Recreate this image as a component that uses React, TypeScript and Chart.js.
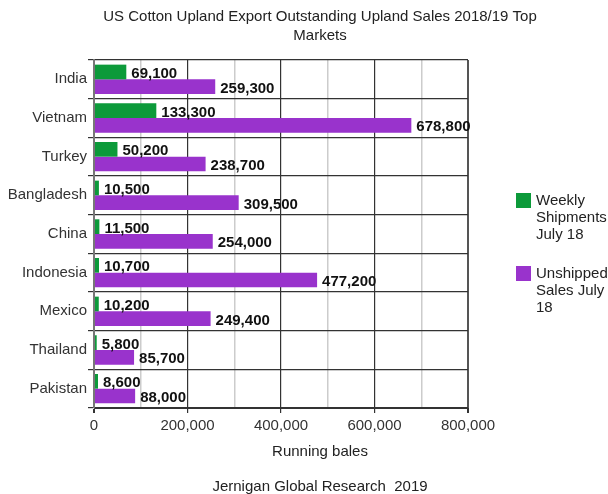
import React, { useEffect, useRef } from "react";
import { Chart, registerables } from "chart.js";

Chart.register(...registerables);

const categories = ["India", "Vietnam", "Turkey", "Bangladesh", "China", "Indonesia", "Mexico", "Thailand", "Pakistan"];
const weeklyShipments = [69100, 133300, 50200, 10500, 11500, 10700, 10200, 5800, 8600];
const unshippedSales = [259300, 678800, 238700, 309500, 254000, 477200, 249400, 85700, 88000];
const seriesNames = [["Weekly", "Shipments", "July 18"], ["Unshipped", "Sales July", "18"]];
const titleLines = ["US Cotton Upland Export Outstanding Upland Sales 2018/19 Top", "Markets"];
const xAxisTitle = "Running bales";
const footerText = "Jernigan Global Research  2019";
const xMin = 0;
const xMax = 800000;
const xStep = 100000;

const FONT = "'Liberation Sans', Arial, sans-serif";
const GREEN = "#0c9a3a";
const PURPLE = "#9933cc";

const labelsPlugin = {
  id: "barValueLabels",
  afterDatasetsDraw(chart: any) {
    const ctx = chart.ctx;
    ctx.save();
    ctx.font = `bold 15px ${FONT}`;
    ctx.fillStyle = "#111";
    ctx.textAlign = "left";
    ctx.textBaseline = "middle";
    chart.data.datasets.forEach((ds: any, di: number) => {
      const meta = chart.getDatasetMeta(di);
      meta.data.forEach((el: any, i: number) => {
        const v = ds.data[i] as number;
        ctx.fillText(v.toLocaleString("en-US"), el.x + 5, el.y + 2);
      });
    });
    ctx.restore();
  },
};

const textPlugin = {
  id: "extraText",
  afterDraw(chart: any) {
    const ctx = chart.ctx;
    ctx.save();
    ctx.fillStyle = "#222";
    ctx.textAlign = "center";
    ctx.textBaseline = "middle";
    ctx.font = `15px ${FONT}`;
    titleLines.forEach((t, i) => ctx.fillText(t, 320, 17 + i * 19));
    ctx.fillText(xAxisTitle, 320, 452);
    ctx.fillText(footerText, 320, 487);

    // legend
    const colors = [GREEN, PURPLE];
    const tops = [193, 266];
    ctx.textAlign = "left";
    seriesNames.forEach((lines, si) => {
      ctx.fillStyle = colors[si];
      ctx.fillRect(516, tops[si], 15, 15);
      ctx.fillStyle = "#222";
      lines.forEach((ln, li) => ctx.fillText(ln, 536, tops[si] + 8 + li * 17));
    });
    ctx.restore();
  },
};

export default function App() {
  const canvasRef = useRef<HTMLCanvasElement | null>(null);

  useEffect(() => {
    if (!canvasRef.current) return;
    const chart = new Chart(canvasRef.current, {
      type: "bar",
      data: {
        labels: categories,
        datasets: [
          {
            label: seriesNames[0].join(" "),
            data: weeklyShipments,
            backgroundColor: GREEN,
            barPercentage: 1,
            categoryPercentage: 0.76,
          },
          {
            label: seriesNames[1].join(" "),
            data: unshippedSales,
            backgroundColor: PURPLE,
            barPercentage: 1,
            categoryPercentage: 0.76,
          },
        ],
      },
      options: {
        indexAxis: "y",
        animation: false,
        responsive: true,
        maintainAspectRatio: false,
        layout: { padding: { left: 0, right: 140, top: 60, bottom: 0 } },
        plugins: {
          legend: { display: false },
          title: { display: false },
          tooltip: { enabled: false },
        },
        scales: {
          x: {
            type: "linear",
            min: xMin,
            max: xMax,
            afterFit(scale: any) {
              scale.height = 86;
            },
            ticks: {
              stepSize: xStep,
              padding: 4,
              autoSkip: false,
              maxRotation: 0,
              minRotation: 0,
              color: "#333",
              font: { family: FONT, size: 15 },
              callback: (v: any) => (Number(v) % 200000 === 0 ? Number(v).toLocaleString("en-US") : ""),
            },
            grid: {
              color: (c: any) => {
                const v = c.tick?.value ?? 0;
                if (v === xMax) return "#555";
                if (v === xMin) return "#777";
                return v % 200000 === 0 ? "#333" : "#cccccc";
              },
              lineWidth: (c: any) => {
                const v = c.tick?.value ?? 0;
                if (v === xMax || v === xMin) return 2;
                return v % 200000 === 0 ? 1.2 : 1.5;
              },
              tickColor: (c: any) => {
                const v = c.tick?.value ?? 0;
                return v % 200000 === 0 ? "#333" : "rgba(0,0,0,0)";
              },
              tickLength: 5,
            },
            border: { display: true, color: "#333", width: 1 },
          },
          y: {
            afterFit(scale: any) {
              scale.width = 94;
            },
            ticks: {
              padding: 1,
              color: "#333",
              font: { family: FONT, size: 15 },
            },
            grid: {
              offset: true,
              color: "#333",
              lineWidth: 1.2,
              tickLength: 6,
            },
            border: { display: true, color: "#777", width: 2 },
          },
        },
      },
      plugins: [labelsPlugin, textPlugin],
    });
    return () => chart.destroy();
  }, []);

  return (
    <div style={{ position: "absolute", left: 0, top: 0, width: 608, height: 494 }}>
      <canvas ref={canvasRef} />
    </div>
  );
}
